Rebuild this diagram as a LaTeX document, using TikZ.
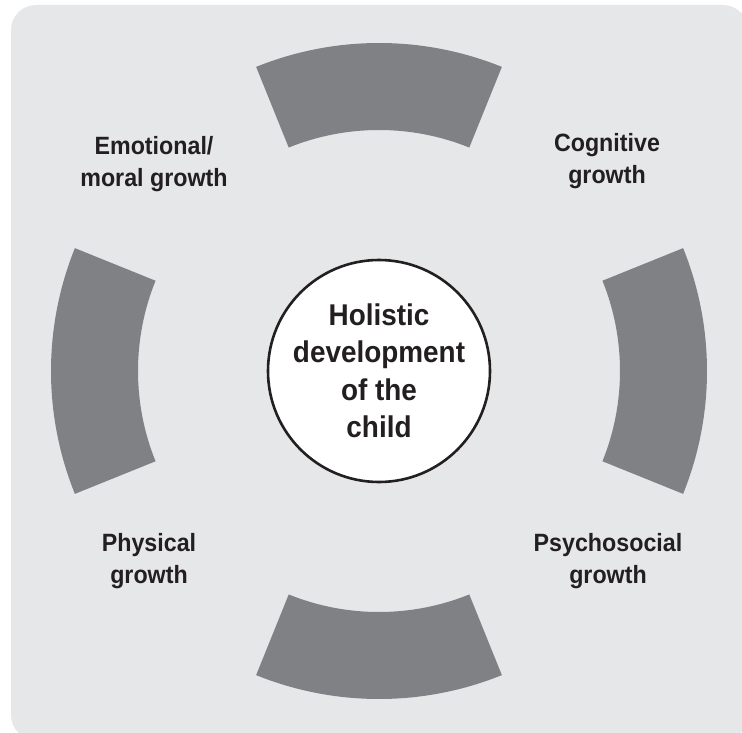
\documentclass[tikz,border=0pt]{standalone}
\usepackage{fontspec}
\usetikzlibrary{calc}
\setmainfont{Liberation Sans}
\newfontfamily\labfont[FakeStretch=0.93]{Liberation Sans}
\definecolor{bg}{RGB}{230,231,232}
\definecolor{seg}{RGB}{128,129,132}
\definecolor{ink}{RGB}{35,31,32}
\tikzset{
  segment/.style={fill=seg, draw=none},
  label/.style={align=center, font=\labfont\fontsize{25}{32}\selectfont\bfseries, text=ink, inner sep=0pt},
  hub/.style={circle, draw=ink, line width=2.6pt, fill=white, minimum size=222pt, align=center,
    font=\labfont\fontsize{30}{37.5}\selectfont\bfseries, text=ink, inner sep=0pt}
}
\begin{document}
\begin{tikzpicture}[x=1pt,y=-1pt]
\useasboundingbox (0,0) rectangle (742,733);
\begin{scope}
\clip (0,0) rectangle (742,733);
\fill[bg, rounded corners=25pt] (11,5) rectangle (748,740);
\end{scope}
\coordinate (c) at (379,371);
% four ring segments
\foreach \a in {0,90,180,270}{
  \fill[segment] ($(c)+(\a-22:241)$) arc[start angle=\a-22, end angle=\a+22, radius=241]
    -- ($(c)+(\a+22:328)$) arc[start angle=\a+22, end angle=\a-22, radius=328] -- cycle;
}
\node[hub] (hub) at (c) {Holistic\\development\\of the\\child};
\node[label] (emo) at (154,164) {Emotional/\\moral growth};
\node[label] (cog) at (607,161) {Cognitive\\growth};
\node[label] (phy) at (149,561) {Physical\\growth};
\node[label] (psy) at (608,561) {Psychosocial\\growth};
\end{tikzpicture}
\end{document}
